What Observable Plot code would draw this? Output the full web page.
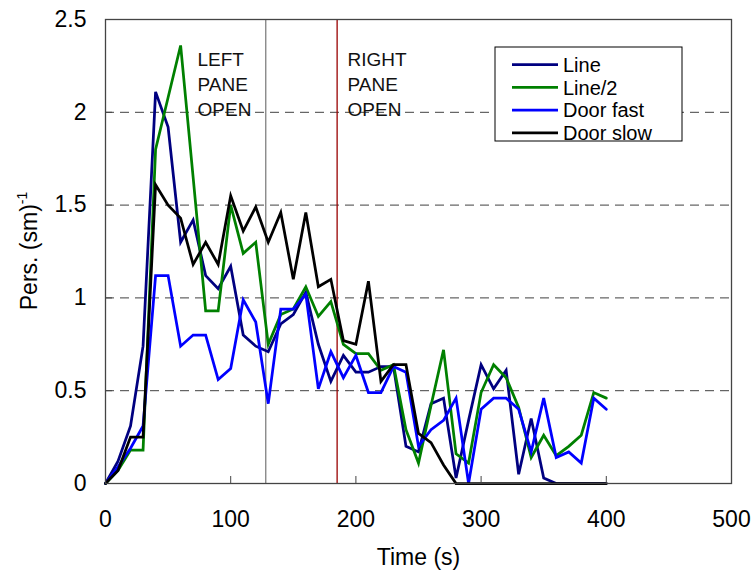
<!DOCTYPE html>
<html>
<head>
<meta charset="utf-8">
<script src="https://cdn.jsdelivr.net/npm/d3@7"></script>
<script src="https://cdn.jsdelivr.net/npm/@observablehq/plot@0.6"></script>
<style>
  html, body { margin: 0; padding: 0; background: #fff; }
  #chart { position: relative; width: 753px; height: 575px; }
</style>
</head>
<body>
<div id="chart"></div>
<script>
const times = [0,10,20,30,40,50,60,70,80,90,100,110,120,130,140,150,160,170,180,190,200,210,220,230,240,250,260,270,280,290,300,310,320,330,340,350,360,370,380,390,400];
const lineVals   = [0,0.12,0.31,0.74,2.11,1.92,1.30,1.42,1.12,1.05,1.17,0.80,0.74,0.71,0.86,0.91,1.03,0.75,0.55,0.69,0.60,0.60,0.63,0.63,0.20,0.17,0.43,0.46,0.03,0.34,0.64,0.51,0.61,0.05,0.35,0.03,0,0,0,0,0];
const line2Vals  = [0,0.07,0.18,0.18,1.80,2.08,2.36,1.65,0.93,0.93,1.50,1.24,1.30,0.75,0.91,0.94,1.06,0.90,0.98,0.75,0.70,0.70,0.61,0.64,0.29,0.11,0.42,0.72,0.16,0.11,0.49,0.64,0.57,0.41,0.14,0.26,0.15,0.20,0.26,0.49,0.46];
const doorFast   = [0,0.09,0.19,0.31,1.12,1.12,0.74,0.80,0.80,0.56,0.62,0.99,0.87,0.43,0.94,0.94,1.02,0.51,0.71,0.57,0.69,0.49,0.49,0.63,0.60,0.20,0.29,0.34,0.46,0.00,0.40,0.46,0.46,0.40,0.17,0.46,0.14,0.17,0.11,0.46,0.40];
const doorSlow   = [0,0.07,0.25,0.25,1.61,1.50,1.43,1.18,1.30,1.18,1.55,1.36,1.49,1.30,1.46,1.10,1.46,1.06,1.10,0.77,0.75,1.09,0.55,0.64,0.64,0.27,0.22,0.10,0,0,0,0,0,0,0,0,0,0,0,0,0];

const seriesNames  = ["Line", "Line/2", "Door fast", "Door slow"];
const seriesColors = ["#000080", "#008000", "#0000ff", "#000000"];
const seriesValues = [lineVals, line2Vals, doorFast, doorSlow];

const xTicks = [0,100,200,300,400,500];
const yTicks = [0,0.5,1,1.5,2,2.5];
const gridY  = [0.5,1,1.5,2];

const eventTimes  = [128, 185];
const eventColors = ["#808080", "#990000"];
const annotTimes  = [73.5, 193.3];
const annotTexts  = ["LEFT\nPANE\nOPEN", "RIGHT\nPANE\nOPEN"];

const events = eventTimes.map((t, i) => ({t, color: eventColors[i]}));
const annots = annotTimes.map((t, i) => ({t, text: annotTexts[i]}));

const lineMarks = seriesValues.map((vals, i) =>
  Plot.line(times.map((t, j) => ({t, v: vals[j]})), {
    x: "t", y: "v", stroke: seriesColors[i], strokeWidth: 2.75, strokeLinejoin: "miter", strokeMiterlimit: 4
  })
);

const W = 753, H = 575, mL = 105, mR = 22, mT = 19, mB = 92;
const FONT = "'Liberation Sans', Arial, sans-serif";

const chart = Plot.plot({
  width: W, height: H,
  marginLeft: mL, marginRight: mR, marginTop: mT, marginBottom: mB,
  x: {domain: [0, 500]},
  y: {domain: [0, 2.5]},
  style: {fontFamily: FONT, fontSize: "23px", background: "#fff", color: "#000", overflow: "visible"},
  marks: [
    Plot.ruleY(gridY, {y: d => d, stroke: "#404040", strokeWidth: 1, strokeDasharray: "9,6"}),
    Plot.ruleX(events, {x: "t", stroke: "color", strokeWidth: 1.3}),
    Plot.text(annots, {x: "t", text: "text", frameAnchor: "top", dy: 28, textAnchor: "start", lineAnchor: "top", lineHeight: 1.34, fontSize: 19, fill: "#111"}),
    ...lineMarks,
    Plot.frame({stroke: "#444", strokeWidth: 1.3}),
    Plot.ruleX(xTicks.slice(1, -1), {x: d => d, stroke: "#444", insetTop: (H - mT - mB) - 7}),
    Plot.ruleY(yTicks.slice(1, -1), {y: d => d, stroke: "#444", insetRight: (W - mL - mR) - 7}),
    Plot.axisX({ticks: xTicks, tickSize: 0, tickPadding: 27, tickFormat: d => String(d), label: null}),
    Plot.axisY({ticks: yTicks, tickSize: 0, tickPadding: 19, tickFormat: d => String(d), label: null}),
    Plot.text(["Time (s)"], {frameAnchor: "bottom", dy: 81, lineAnchor: "bottom", fontSize: 23})
  ]
});

document.getElementById("chart").appendChild(chart);

const svg = d3.select(chart);
// Y axis title with superscript
const yl = svg.append("text")
  .attr("transform", `translate(37, ${(mT + (H - mB)) / 2}) rotate(-90)`)
  .attr("text-anchor", "middle")
  .attr("font-family", FONT)
  .attr("font-size", 23)
  .attr("fill", "#000");
yl.append("tspan").text("Pers. (sm)");
yl.append("tspan").attr("font-size", 14).attr("dy", -10).text("-1");

// Legend
const lg = svg.append("g").attr("transform", "translate(495,47)");
lg.append("rect").attr("width", 187).attr("height", 94).attr("fill", "#fff").attr("stroke", "#000").attr("stroke-width", 1);
seriesNames.forEach((name, i) => {
  const y = 17.5 + i * 22.8;
  lg.append("line").attr("x1", 17).attr("x2", 63).attr("y1", y).attr("y2", y)
    .attr("stroke", seriesColors[i]).attr("stroke-width", 2.75);
  lg.append("text").attr("x", 68).attr("y", y).attr("dy", "0.36em")
    .attr("text-anchor", "start")
    .attr("font-family", FONT).attr("font-size", 20)
    .attr("fill", "#000").text(name);
});
</script>
</body>
</html>
